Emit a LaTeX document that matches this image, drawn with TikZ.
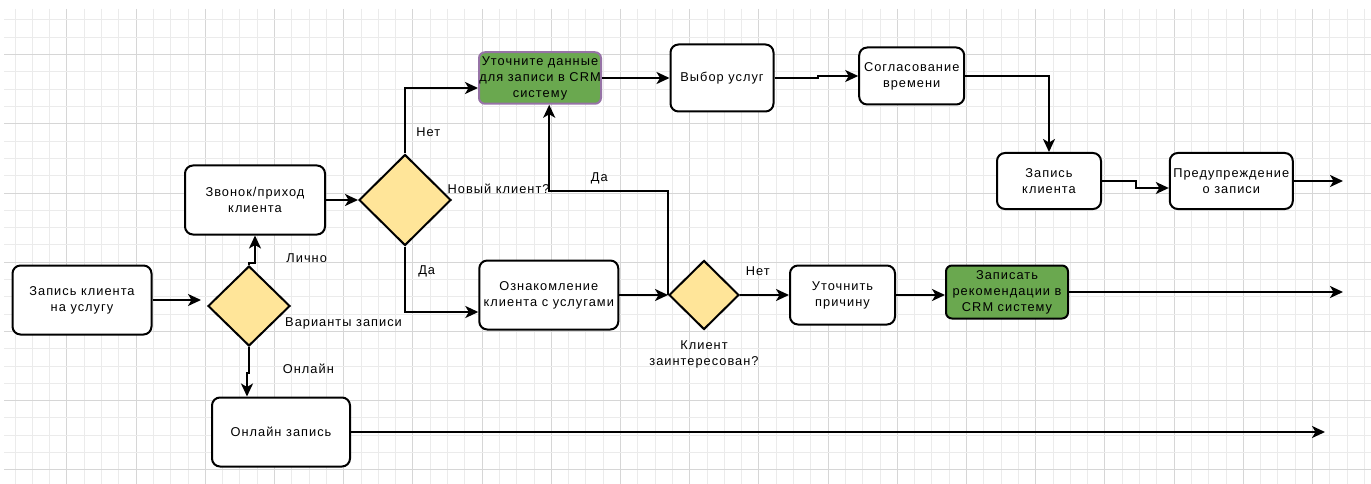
\documentclass[tikz,border=0pt]{standalone}
\usepackage{fontspec}
\setmainfont{Liberation Sans}[LetterSpace=8]
\usetikzlibrary{shapes.geometric,arrows.meta}
\definecolor{gridminor}{HTML}{EBEBEB}
\definecolor{gridmajor}{HTML}{D6D6D6}
\definecolor{dfill}{HTML}{FFE599}
\definecolor{gfill}{HTML}{6AA84F}
\definecolor{gborder}{HTML}{9673A6}
\begin{document}
\begin{tikzpicture}[x=1pt,y=-1pt, font=\fontsize{12.8}{16}\selectfont,
 box/.style={draw=black, line width=2pt, rounded corners=8pt, fill=white, align=center, inner sep=0pt},
 dec/.style={diamond, draw=black, line width=2pt, fill=dfill, inner sep=0pt},
 conn/.style={line width=2pt, -{Stealth[length=13pt,width=12pt,inset=3.5pt]}},
 lbl/.style={inner sep=0pt, align=center}]
\useasboundingbox (0,0) rectangle (1371,484);
\fill[white] (0,0) rectangle (1371,484);
% grid
\foreach \k in {0,...,78}{
  \pgfmathsetmacro{\xx}{15+17.3*\k}
  \pgfmathtruncatemacro{\mm}{mod(\k,4)}
  \ifnum\mm=3 \draw[gridmajor, line width=1pt] (\xx,9) -- (\xx,484);
  \else \draw[gridminor, line width=1pt] (\xx,9) -- (\xx,484); \fi
}
\foreach \k in {0,...,26}{
  \pgfmathsetmacro{\yy}{20+17.3*\k}
  \pgfmathtruncatemacro{\mm}{mod(\k,4)}
  \ifnum\mm=2 \draw[gridmajor, line width=1pt] (4,\yy) -- (1371,\yy);
  \else \draw[gridminor, line width=1pt] (4,\yy) -- (1371,\yy); \fi
}
% nodes
\node[box, minimum width=139, minimum height=69] (zap) at (82,300) {Запись клиента\\на услугу};
\node[dec, minimum width=82, minimum height=80] (d1) at (249,306) {};
\node[box, minimum width=140, minimum height=69] (zv) at (255,200) {Звонок/приход\\клиента};
\node[box, minimum width=138, minimum height=69] (onl) at (281,432) {Онлайн запись};
\node[dec, minimum width=92, minimum height=91] (d2) at (405,200) {};
\node[box, draw=gborder, fill=gfill, minimum width=122, minimum height=51.5, rounded corners=6pt] (g1) at (540,78) {Уточните данные\\для записи в CRM\\систему};
\node[box, minimum width=103, minimum height=67] (vyb) at (722,78) {Выбор услуг};
\node[box, minimum width=105, minimum height=57] (sogl) at (911.7,76) {Согласование\\времени};
\node[box, minimum width=104, minimum height=56] (zk) at (1049,181) {Запись\\клиента};
\node[box, minimum width=123, minimum height=56] (pred) at (1231.3,181) {Предупреждение\\о записи};
\node[box, minimum width=139, minimum height=69] (ozn) at (548.8,295) {Ознакомление\\клиента с услугами};
\node[dec, minimum width=70, minimum height=69] (d3) at (704,295) {};
\node[box, minimum width=105, minimum height=59] (ut) at (842.5,295) {Уточнить\\причину};
\node[box, fill=gfill, minimum width=122, minimum height=53, rounded corners=6pt] (g2) at (1007,292) {Записать\\рекомендации в\\CRM систему};
% labels
\node[lbl] (lLich) at (306.7,258.3) {Лично};
\node[lbl, anchor=west] (lVar) at (285,323.3) {Варианты записи};
\node[lbl, anchor=west] (lOnl) at (282.7,369.3) {Онлайн};
\node[lbl] (lNet1) at (428.3,132.3) {Нет};
\node[lbl] (lDa1) at (426.7,271.7) {Да};
\node[lbl, anchor=west] (lNov) at (447.5,189) {Новый клиент?};
\node[lbl] (lDa2) at (599.3,178.3) {Да};
\node[lbl] (lNet2) at (757.7,270.7) {Нет};
\node[lbl, font=\fontsize{12.8}{16.7}\selectfont] (lKl) at (704,354.5) {Клиент\\заинтересован?};
% free ends
\coordinate (e1) at (1343,181);
\coordinate (e2) at (1343,292);
\coordinate (e3) at (1325,432);
% connectors
\draw[conn] (zap.east) -- ([xshift=-6pt]d1.west |- zap.east);
\draw[conn] (d1.north) -- ++(0,-2) -| (zv.south);
\draw[conn] (d1.south) -- ++(0,26) -| ([xshift=-34pt]onl.north);
\draw[conn] (zv.east) -- (d2.west);
\draw[conn] (d2.north) |- ([yshift=-10pt]g1.west);
\draw[conn] (d2.south) |- ([yshift=-17pt]ozn.west);
\draw[conn] (ozn.east) -- (d3.west);
\draw[conn] (d3.west) -- ++(0,-104) -| ([xshift=9.2pt]g1.south);
\draw[conn] (d3.east) -- (ut.west);
\draw[conn] (ut.east) -- (ut.east -| g2.west);
\draw[conn] (g2.east) -- (e2);
\draw[conn] (g1.east) -- (vyb.west);
\draw[conn] (vyb.east) -- ++(43.5,0) |- (sogl.west);
\draw[conn] (sogl.east) -| (zk.north);
\draw[conn] (zk.east) -- ++(34,0) |- ([yshift=-7pt]pred.west);
\draw[conn] (pred.east) -- (e1);
\draw[conn] (onl.east) -- (e3);
\end{tikzpicture}
\end{document}
